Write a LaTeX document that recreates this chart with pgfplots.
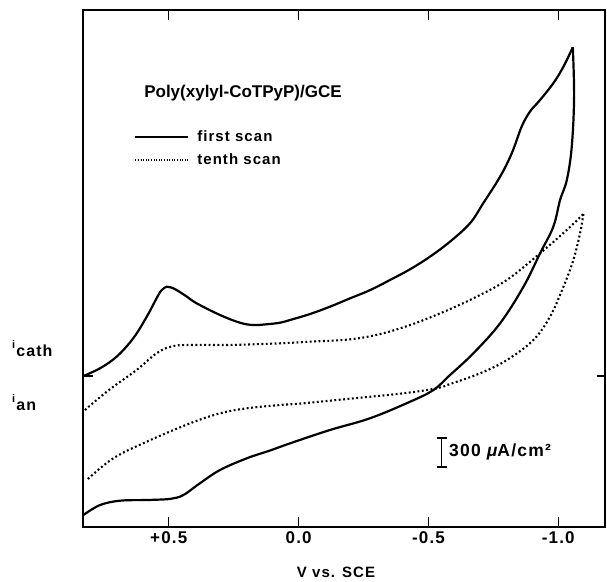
\documentclass[border=0pt]{standalone}
\usepackage{fontspec}
\setmainfont{Liberation Sans}
\newfontfamily\spaced[LetterSpace=7]{Liberation Sans}
\usepackage{pgfplots}
\pgfplotsset{compat=1.18}
\usepackage{pgfplotstable}

% first scan, cathodic sweep (V vs SCE, current in uA/cm^2, cathodic positive)
\pgfplotstableread{
V I
0.829 0
0.765 80
0.701 200
0.637 390
0.585 613
0.540 838
0.524 896
0.508 923
0.493 917
0.470 889
0.430 820
0.393 752
0.303 631
0.226 551
0.175 527
0.123 535
0.072 551
0.033 579
-0.044 641
-0.121 717
-0.198 803
-0.276 889
-0.352 993
-0.429 1103
-0.506 1234
-0.583 1389
-0.660 1579
-0.711 1786
-0.776 2061
-0.821 2303
-0.859 2578
-0.891 2733
-0.930 2854
-0.981 3027
-1.020 3198
-1.056 3399
}\firstfwd

\pgfplotstableread{
V I
-1.056 3399
-1.061 2888
-1.052 2371
-1.033 2027
-1.007 1820
-0.981 1544
-0.930 1269
-0.866 923
-0.776 545
-0.673 235
-0.583 10
-0.519 -145
-0.429 -266
-0.275 -437
-0.121 -558
0.033 -696
0.110 -770
0.200 -851
0.303 -972
0.380 -1109
0.418 -1184
0.437 -1220
0.457 -1248
0.483 -1265
0.514 -1275
0.585 -1282
0.688 -1289
0.765 -1334
0.829 -1437
}\firstrev

\pgfplotstableread{
V I
0.823 -352
0.778 -248
0.714 -111
0.624 62
0.547 235
0.483 310
0.393 321
0.264 321
0.072 338
-0.044 355
-0.198 379
-0.314 434
-0.429 527
-0.545 648
-0.673 803
-0.802 993
-0.930 1269
-1.033 1510
-1.097 1675
}\tenthfwd

\pgfplotstableread{
V I
-1.097 1675
-1.084 1476
-1.058 1199
-1.020 923
-0.968 613
-0.904 372
-0.802 165
-0.699 28
-0.583 -83
-0.532 -127
-0.403 -179
-0.211 -231
-0.018 -282
0.072 -300
0.200 -334
0.303 -386
0.418 -489
0.585 -679
0.714 -851
0.816 -1075
}\tenthrev

\begin{document}
\begin{tikzpicture}
\begin{axis}[
  scale only axis, width=522pt, height=517pt,
  x dir=reverse, xmin=-1.180, xmax=0.8305, ymin=-1561, ymax=3784,
  xtick={0.5,0,-0.5,-1},
  xticklabels={+0.5,0.0,-0.5,-1.0},
  ytick=\empty,
  axis line style={line width=1.8pt},
  major tick length=10pt,
  tick style={line width=1.2pt, black},
  xticklabel style={font=\spaced\bfseries\fontsize{17}{17}\selectfont, yshift=-1pt},
  legend style={at={(rel axis cs:0.098,0.768)}, anchor=north west, draw=none, fill=none,
    font=\spaced\bfseries\fontsize{15}{15}\selectfont, inner sep=0pt,
    nodes={inner sep=0pt, text height=11pt, text depth=3pt},
    row sep=9pt, column sep=8pt, cells={anchor=west}},
  legend image code/.code={\draw[#1] (0pt,0pt) -- (53pt,0pt);},
  solidcv/.style={line width=2.2pt, black, smooth, tension=0.6},
  dotcv/.style={line width=2.1pt, black, dash pattern=on 1.9pt off 2.5pt, smooth, tension=0.6},
]
\addlegendimage{line width=2pt, black}
\addlegendentry{first scan}
\addlegendimage{line width=1.3pt, black, dash pattern=on 1pt off 1.6pt}
\addlegendentry{tenth scan}

\addplot[solidcv, forget plot] table[x=V, y=I] {\firstfwd};
\addplot[solidcv, forget plot] table[x=V, y=I] {\firstrev};
\addplot[dotcv, forget plot] table[x=V, y=I] {\tenthfwd};
\addplot[dotcv, forget plot] table[x=V, y=I] {\tenthrev};

% zero-current markers
\draw[line width=1.5pt] ([xshift=-10pt]axis cs:0.8305,0) -- ([xshift=10pt]axis cs:0.8305,0);
\draw[line width=1.5pt] ([xshift=-8pt]axis cs:-1.180,0) -- ([xshift=2pt]axis cs:-1.180,0);
% 300 uA/cm2 scale bar
\draw[line width=1.5pt] (axis cs:-0.551,-640) -- (axis cs:-0.551,-940);
\draw[line width=1.5pt] ([xshift=-5pt]axis cs:-0.551,-640) -- ([xshift=5pt]axis cs:-0.551,-640);
\draw[line width=1.5pt] ([xshift=-5pt]axis cs:-0.551,-940) -- ([xshift=5pt]axis cs:-0.551,-940);
\node[anchor=west, inner sep=0pt, font=\spaced\bfseries\fontsize{17.5}{17.5}\selectfont] at (axis cs:-0.579,-786) {300 {\itshape μ}A/cm²};

\coordinate (O) at (rel axis cs:0,1);
\end{axis}

\node[font=\bfseries\fontsize{17}{17}\selectfont] at ([xshift=160pt,yshift=-83pt]O) {Poly(xylyl-CoTPyP)/GCE};
\node[anchor=base west, inner sep=0pt, font=\spaced\bfseries\fontsize{16}{16}\selectfont] at ([xshift=-71pt,yshift=-346pt]O) {\raisebox{8pt}{\fontsize{11}{11}\selectfont i}\kern1pt cath};
\node[anchor=base west, inner sep=0pt, font=\spaced\bfseries\fontsize{16}{16}\selectfont] at ([xshift=-71pt,yshift=-400pt]O) {\raisebox{8pt}{\fontsize{11}{11}\selectfont i}\kern1pt an};
\node[font=\spaced\bfseries\fontsize{15}{15}\selectfont] at ([xshift=253pt,yshift=-562pt]O) {V vs. SCE};

\pgfresetboundingbox
\path[use as bounding box] ([xshift=-83pt,yshift=10pt]O) rectangle ([xshift=524pt,yshift=-571pt]O);
\end{tikzpicture}
\end{document}
